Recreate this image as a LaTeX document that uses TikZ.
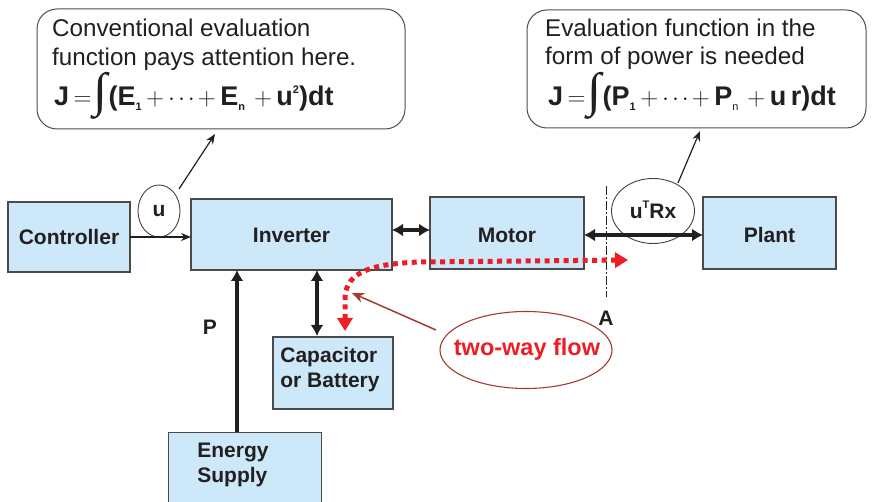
\documentclass[tikz,border=0pt]{standalone}
\usepackage{fontspec}
\setmainfont{Liberation Sans}
\newfontfamily\intfont{Liberation Serif}
\usetikzlibrary{arrows.meta,shapes.geometric}
\definecolor{boxfill}{HTML}{CDE9F9}
\definecolor{boxline}{HTML}{4A4A4A}
\definecolor{ink}{HTML}{231F20}
\definecolor{flowred}{HTML}{EE1C25}
\definecolor{darkred}{HTML}{A33A2F}
\tikzset{
  box/.style={draw=boxline, line width=1.2pt, fill=boxfill, inner sep=0pt},
  lbl/.style={font=\fontsize{21}{25}\selectfont\bfseries, text=ink, inner sep=0pt},
  callout/.style={draw=ink!80, line width=1pt, rounded corners=20pt},
  ctext/.style={font=\fontsize{24.2}{28}\selectfont, text=ink, anchor=base west, inner sep=0pt},
  ftext/.style={font=\fontsize{27}{30}\selectfont\bfseries, text=ink, anchor=base west, inner sep=0pt},
  bubble/.style={draw=ink!85, line width=0.9pt, ellipse, inner sep=0pt},
  thick arrow/.style={draw=ink, line width=3.6pt, {Latex[length=11pt,width=13pt]}-{Latex[length=11pt,width=13pt]}},
  thin arrow/.style={draw=ink, line width=1.2pt, -{Stealth[length=10pt,width=8pt]}}
}
\newcommand{\mysub}[1]{\raisebox{-0.3ex}{\fontsize{11}{11}\selectfont #1}}
\newcommand{\mysup}[1]{\raisebox{0.85ex}{\fontsize{11}{11}\selectfont #1}}
\newcommand{\bigint}{\hspace{2pt}\raisebox{-13pt}{\resizebox{14pt}{47pt}{\raisebox{\depth}{\intfont\bfseries ∫}}}\hspace{1pt}}
\newcommand{\pdots}{\,$+$\hspace{4pt}$\cdot$\hspace{3pt}$\cdot$\hspace{3pt}$\cdot$\hspace{3pt}$+$\,}
\begin{document}
\begin{tikzpicture}[x=1pt,y=-1pt]
\useasboundingbox (0,0) rectangle (872,502);
\clip (0,0) rectangle (872,502);
% callouts
\draw[callout] (37,9) rectangle (405,129);
\draw[callout] (527,10) rectangle (866,128);
\node[ctext] (c1a) at (52,37) {Conventional evaluation};
\node[ctext] (c1b) at (52,66) {function pays attention here.};
\node[ftext] (f1) at (54,106) {J\,$=$\bigint(E\mysub{1}\pdots E\mysub{n}\,\,$+$\,u\mysup{2})dt};
\node[ctext] (c2a) at (545,37) {Evaluation function in the};
\node[ctext] (c2b) at (545,65) {form of power is needed};
\node[ftext] (f2) at (548,106) {J\,$=$\bigint(P\mysub{1}\pdots P\mysub{$\mathrm{n}$}\,\,$+$\,u\,r)dt};
% boxes
\node[box, minimum width=122, minimum height=70] (ctrl) at (69,237) {};
\node[lbl] (ctrlt) at (69,237) {Controller};
\node[box, minimum width=201, minimum height=71] (inv) at (291.5,234.5) {};
\node[lbl] (invt) at (291.5,235) {Inverter};
\node[box, minimum width=154, minimum height=72] (mot) at (507,233) {};
\node[lbl] (mott) at (507,235) {Motor};
\node[box, minimum width=133, minimum height=72] (plant) at (769.5,233) {};
\node[lbl] (plantt) at (769.5,235) {Plant};
\node[box, minimum width=120, minimum height=72] (cap) at (333,373) {};
\node[lbl, align=left] (capt) at (330,370) {Capacitor\\or Battery};
\node[box, minimum width=153, minimum height=95, anchor=north west] (en) at (168,432) {};
\node[lbl, align=left] (ent) at (233,465) {Energy\\Supply};
% bubbles
\node[bubble, minimum width=42, minimum height=52] (u) at (159,211) {};
\node[lbl] (ut) at (159,211) {u};
\node[bubble, minimum width=83, minimum height=65] (urx) at (653,211) {};
\node[lbl] (urxt) at (653,210) {u\mysup{T}Rx};
% connectors
\coordinate (ctrlE) at (130,237);
\coordinate (invW) at (191,237);
\draw[thin arrow] (ctrlE) -- (invW);
\coordinate (ua) at (179,189);
\coordinate (ub) at (215,134);
\draw[thin arrow] (ua) -- (ub);
\coordinate (ra) at (678,183);
\coordinate (rb) at (700,131);
\draw[thin arrow] (ra) -- (rb);
\draw[thick arrow] (392,230) -- (430,230);
\draw[thick arrow] (584,235) -- (703,235);
\draw[thick arrow] (317,270) -- (317,336);
\draw[draw=ink, line width=3.6pt, -{Latex[length=11pt,width=13pt]}] (237,432) -- (237,270);
% A line
\coordinate (A1) at (606,186);
\coordinate (A2) at (606,297);
\draw[ink, line width=0.9pt, dash pattern=on 9pt off 2pt on 2pt off 2pt] (A1) -- (A2);
\node[lbl] (Alab) at (606,318) {A};
\node[lbl] (Plab) at (210,327) {P};
% red two-way flow
\coordinate (r1) at (628,260);
\coordinate (r2) at (345,331);
\draw[flowred, line width=5pt, dash pattern=on 5pt off 4.5pt, {Triangle[length=13pt,width=15pt]}-{Triangle[length=13pt,width=15pt]}]
  (r2) -- (345,300) .. controls (345,276) and (362,264) .. (420,262) -- (r1);
\node[ellipse, draw=darkred, line width=1.1pt, minimum width=172, minimum height=77, inner sep=0pt] (tw) at (526,350) {};
\node[font=\fontsize{23.5}{26}\selectfont\bfseries, text=flowred, inner sep=0pt] (twt) at (527,349) {two-way flow};
\coordinate (twa) at (436,330);
\coordinate (twb) at (352,293);
\draw[darkred, line width=1.5pt, -{Stealth[length=12pt,width=10pt]}] (twa) -- (twb);
\end{tikzpicture}
\end{document}
